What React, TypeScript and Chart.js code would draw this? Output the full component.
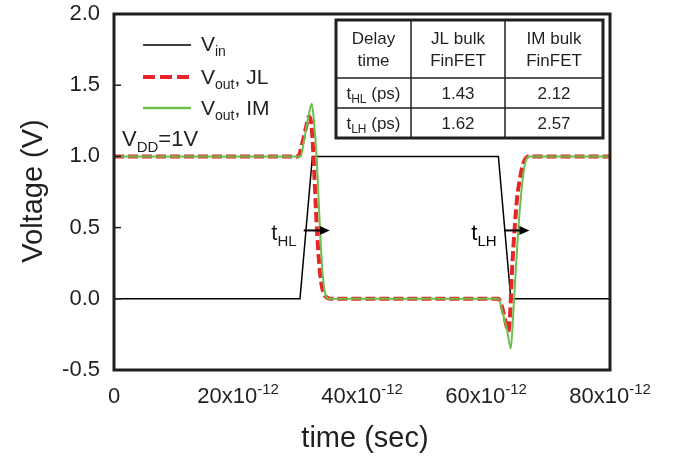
import React, { useEffect, useRef } from "react";
import { Chart, registerables } from "chart.js";

Chart.register(...registerables);

// ---- data (time in ps, voltage in V) ----
const vinTime = [0, 30, 32, 62, 64, 80];
const vinVolt = [0, 0, 1, 1, 0, 0];

const jlTime = [0, 29.7, 30.3, 30.9, 31.45, 31.85, 32.2, 32.6, 33.0, 33.4, 33.8, 34.3, 35.0,
  62.0, 62.6, 63.2, 63.6, 63.9, 64.2, 64.6, 65.0, 65.5, 66.0, 66.8, 80];
const jlVolt = [1, 1, 1.08, 1.19, 1.28, 1.22, 0.98, 0.6, 0.3, 0.12, 0.04, 0.01, 0,
  0, -0.06, -0.17, -0.23, -0.1, 0.2, 0.48, 0.7, 0.85, 0.95, 1, 1];

const imTime = [0, 30.1, 30.6, 31.1, 31.5, 31.9, 32.3, 32.7, 33.0, 33.3, 33.7, 34.1, 34.6,
  62.0, 62.7, 63.4, 64.0, 64.4, 64.8, 65.2, 65.7, 66.3, 67.1, 80];
const imVolt = [1, 1, 1.1, 1.22, 1.31, 1.37, 1.22, 0.98, 0.7, 0.42, 0.15, 0.03, 0,
  0, -0.1, -0.22, -0.35, -0.1, 0.2, 0.48, 0.75, 0.95, 1, 1];

const xTicks = [0, 20, 40, 60, 80];
const yInnerTicks = [0, 0.5, 1.0, 1.5];

const tableHeader = [["Delay", "time"], ["JL bulk", "FinFET"], ["IM bulk", "FinFET"]];
const tableRowNames = [["t", "HL"], ["t", "LH"]];
const jlDelays = ["1.43", "1.62"];
const imDelays = ["2.12", "2.57"];

const INK = "#231f20";
const RED = "#e8262a";
const GREEN = "#6cbf4a";
const FONT = "'Liberation Sans', Arial, sans-serif";

type Part = { t: string; size: number; dy?: number };

function rich(ctx: CanvasRenderingContext2D, parts: Part[], x: number, y: number, align: "left" | "center" | "right") {
  let w = 0;
  const widths = parts.map((p) => {
    ctx.font = `${p.size}px ${FONT}`;
    const m = ctx.measureText(p.t).width;
    w += m;
    return m;
  });
  let cx = align === "left" ? x : align === "center" ? x - w / 2 : x - w;
  ctx.textAlign = "left";
  ctx.textBaseline = "alphabetic";
  parts.forEach((p, i) => {
    ctx.font = `${p.size}px ${FONT}`;
    ctx.fillText(p.t, cx, y + (p.dy || 0));
    cx += widths[i];
  });
}

function arrow(ctx: CanvasRenderingContext2D, x1: number, x2: number, y: number) {
  ctx.strokeStyle = "#000";
  ctx.fillStyle = "#000";
  ctx.lineWidth = 2;
  ctx.beginPath();
  ctx.moveTo(x1, y);
  ctx.lineTo(x2 - 8, y);
  ctx.stroke();
  ctx.beginPath();
  ctx.moveTo(x2, y);
  ctx.lineTo(x2 - 10, y - 4.5);
  ctx.lineTo(x2 - 10, y + 4.5);
  ctx.closePath();
  ctx.fill();
}

const overlay = {
  id: "overlay",
  afterDatasetsDraw(chart: any) {
    const ctx: CanvasRenderingContext2D = chart.ctx;
    const { left, right, top, bottom } = chart.chartArea;
    const xs = chart.scales.x;
    const ys = chart.scales.y;
    ctx.save();

    // inner y ticks
    ctx.strokeStyle = INK;
    ctx.lineWidth = 1.5;
    yInnerTicks.forEach((v) => {
      const py = ys.getPixelForValue(v);
      ctx.beginPath();
      ctx.moveTo(left, py);
      ctx.lineTo(left + 7, py);
      ctx.stroke();
    });

    // frame
    ctx.strokeStyle = INK;
    ctx.lineWidth = 3;
    ctx.strokeRect(left, top, right - left, bottom - top);

    // x tick labels
    ctx.fillStyle = INK;
    xTicks.forEach((v) => {
      const px = xs.getPixelForValue(v);
      if (v === 0) {
        rich(ctx, [{ t: "0", size: 22 }], px, 403, "center");
      } else {
        rich(ctx, [{ t: `${v}x10`, size: 22 }, { t: "-12", size: 15, dy: -9 }], px, 403, "center");
      }
    });

    // axis titles
    ctx.font = `29px ${FONT}`;
    ctx.textAlign = "center";
    ctx.textBaseline = "alphabetic";
    ctx.fillText("time (sec)", 365, 447);
    ctx.save();
    ctx.translate(42, 191);
    ctx.rotate(-Math.PI / 2);
    ctx.fillText("Voltage (V)", 0, 0);
    ctx.restore();

    // legend
    const lx1 = 143, lx2 = 191, tx = 201;
    ctx.lineWidth = 1.5;
    ctx.strokeStyle = "#000";
    ctx.beginPath(); ctx.moveTo(lx1, 45); ctx.lineTo(lx2, 45); ctx.stroke();
    ctx.lineWidth = 4;
    ctx.strokeStyle = RED;
    ctx.setLineDash([12, 5]);
    ctx.beginPath(); ctx.moveTo(lx1, 77); ctx.lineTo(lx2, 77); ctx.stroke();
    ctx.setLineDash([]);
    ctx.lineWidth = 2.5;
    ctx.strokeStyle = GREEN;
    ctx.beginPath(); ctx.moveTo(lx1, 108); ctx.lineTo(lx2, 108); ctx.stroke();
    ctx.fillStyle = INK;
    rich(ctx, [{ t: "V", size: 21 }, { t: "in", size: 14, dy: 5 }], tx, 51, "left");
    rich(ctx, [{ t: "V", size: 21 }, { t: "out", size: 14, dy: 5 }, { t: ", JL", size: 21 }], tx, 84, "left");
    rich(ctx, [{ t: "V", size: 21 }, { t: "out", size: 14, dy: 5 }, { t: ", IM", size: 21 }], tx, 115, "left");

    // VDD
    rich(ctx, [{ t: "V", size: 22 }, { t: "DD", size: 15, dy: 6 }, { t: "=1V", size: 22 }], 122, 146, "left");

    // delay annotations
    const ay = ys.getPixelForValue(0.48);
    rich(ctx, [{ t: "t", size: 22 }, { t: "HL", size: 15, dy: 6 }], 284, 240, "center");
    arrow(ctx, xs.getPixelForValue(30.6), xs.getPixelForValue(34.8), ay);
    rich(ctx, [{ t: "t", size: 22 }, { t: "LH", size: 15, dy: 6 }], 484, 240, "center");
    arrow(ctx, xs.getPixelForValue(63.0), xs.getPixelForValue(67.0), ay);

    // table
    const tL = 336, tR = 603, tT = 20, tB = 138;
    const cols = [tL, 411, 505, tR];
    const rows = [tT, 78, 108, tB];
    ctx.fillStyle = "#fff";
    ctx.fillRect(tL, tT, tR - tL, tB - tT);
    ctx.strokeStyle = INK;
    ctx.lineWidth = 1.5;
    ctx.beginPath();
    [cols[1], cols[2]].forEach((cx) => { ctx.moveTo(cx, tT); ctx.lineTo(cx, tB); });
    [rows[1], rows[2]].forEach((ry) => { ctx.moveTo(tL, ry); ctx.lineTo(tR, ry); });
    ctx.stroke();
    ctx.lineWidth = 3;
    ctx.strokeRect(tL, tT, tR - tL, tB - tT);

    ctx.fillStyle = INK;
    tableHeader.forEach((h, i) => {
      const cx = (cols[i] + cols[i + 1]) / 2;
      rich(ctx, [{ t: h[0], size: 17 }], cx, 44, "center");
      rich(ctx, [{ t: h[1], size: 17 }], cx, 66, "center");
    });
    const rowBase = [99, 129];
    tableRowNames.forEach((r, i) => {
      rich(ctx, [{ t: r[0], size: 17 }, { t: r[1], size: 12, dy: 4 }, { t: " (ps)", size: 17 }],
        (cols[0] + cols[1]) / 2, rowBase[i], "center");
      rich(ctx, [{ t: jlDelays[i], size: 17 }], (cols[1] + cols[2]) / 2, rowBase[i], "center");
      rich(ctx, [{ t: imDelays[i], size: 17 }], (cols[2] + cols[3]) / 2, rowBase[i], "center");
    });

    ctx.restore();
  },
};

export default function App() {
  const ref = useRef<HTMLCanvasElement | null>(null);
  useEffect(() => {
    if (!ref.current) return;
    const toPts = (t: number[], v: number[]) => t.map((x, i) => ({ x, y: v[i] }));
    const chart = new Chart(ref.current, {
      type: "line",
      data: {
        datasets: [
          {
            label: "Vin",
            data: toPts(vinTime, vinVolt),
            borderColor: "#000",
            borderWidth: 1.5,
            pointRadius: 0,
            tension: 0,
            order: 2,
          },
          {
            label: "Vout, JL",
            data: toPts(jlTime, jlVolt),
            borderColor: RED,
            borderWidth: 4,
            borderDash: [10, 4],
            pointRadius: 0,
            cubicInterpolationMode: "monotone",
            order: 1,
          },
          {
            label: "Vout, IM",
            data: toPts(imTime, imVolt),
            borderColor: GREEN,
            borderWidth: 2,
            pointRadius: 0,
            cubicInterpolationMode: "monotone",
            order: 0,
          },
        ],
      },
      options: {
        animation: false,
        responsive: false,
        devicePixelRatio: 1,
        layout: { padding: { left: 0, right: 73, top: 14, bottom: 0 } },
        plugins: { legend: { display: false }, tooltip: { enabled: false } },
        scales: {
          x: {
            type: "linear",
            min: 0,
            max: 80,
            grid: { display: false },
            border: { display: false },
            ticks: { display: false },
            afterFit: (s: any) => { s.height = 90; s.paddingLeft = 0; s.paddingRight = 0; },
          },
          y: {
            type: "linear",
            min: -0.5,
            max: 2,
            grid: { display: false, drawTicks: false },
            border: { display: false },
            ticks: {
              stepSize: 0.5,
              padding: 14,
              color: INK,
              font: { family: FONT, size: 22 },
              callback: (v: any) => Number(v).toFixed(1),
            },
            afterFit: (s: any) => { s.width = 114; s.paddingTop = 0; s.paddingBottom = 0; },
          },
        },
      },
      plugins: [overlay],
    } as any);
    return () => chart.destroy();
  }, []);
  return (
    <div style={{ position: "fixed", left: 0, top: 0, width: 683, height: 460, background: "#fff" }}>
      <canvas ref={ref} width={683} height={460} style={{ display: "block", width: 683, height: 460 }} />
    </div>
  );
}
